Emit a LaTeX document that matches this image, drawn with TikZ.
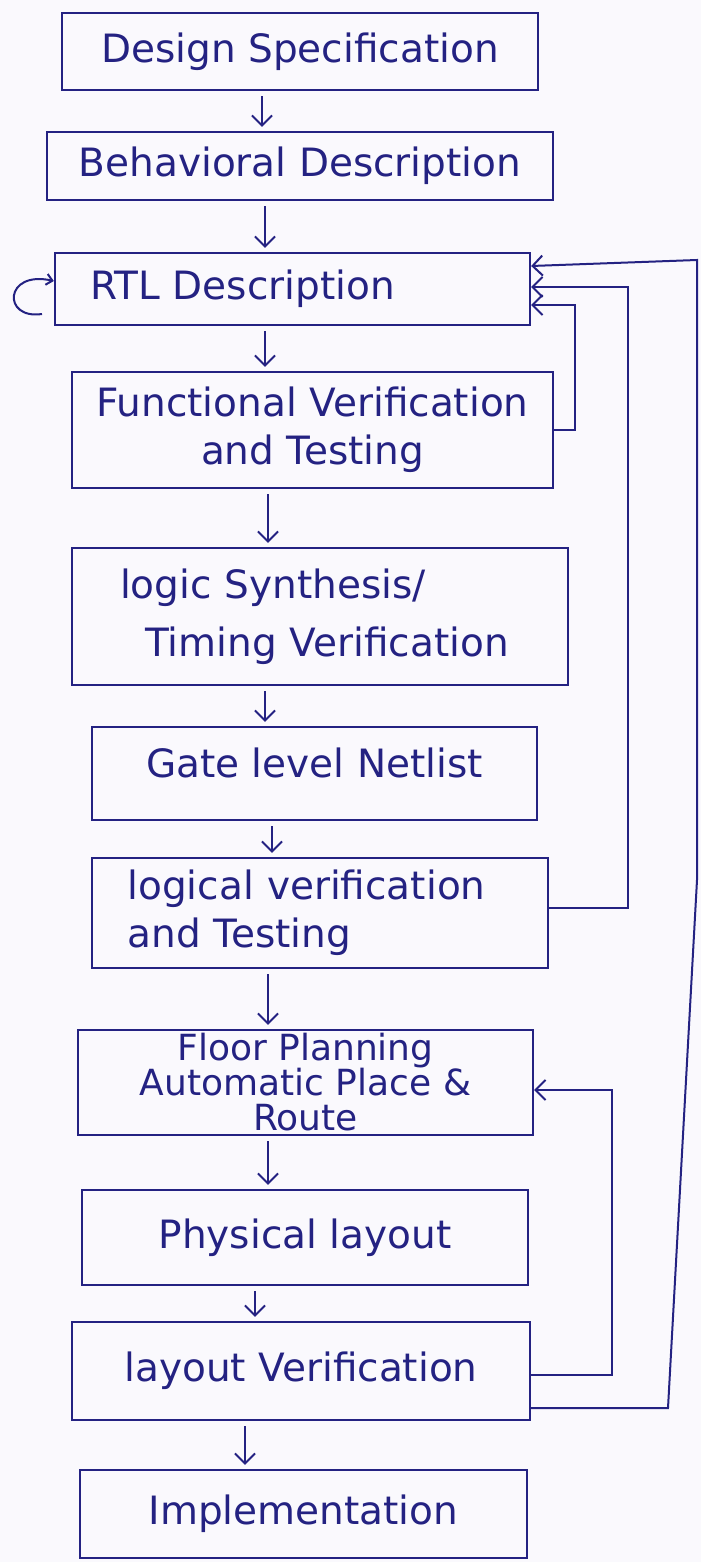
\documentclass[tikz,border=0pt]{standalone}
\usepackage{fontspec}
\setmainfont{DejaVu Sans}
\usetikzlibrary{arrows.meta}
\definecolor{ink}{RGB}{36,34,130}
\definecolor{paper}{RGB}{250,249,253}
\begin{document}
\begin{tikzpicture}[x=1pt,y=-1pt,
  box/.style={draw=ink, line width=2.3pt, text=ink, inner sep=0pt,
    font=\fontsize{39}{48}\selectfont},
  flow/.style={draw=ink, line width=2pt, -{Straight Barb[length=10pt,width=20pt]}},
  gap/.style={shorten <=5pt, shorten >=4pt}]
\useasboundingbox (0,0) rectangle (701,1562);
\fill[paper] (0,0) rectangle (701,1562);

% design flow boxes
\node[box, minimum width=476, minimum height=77] (ds) at (300,51.5) {Design Specification};
\node[box, minimum width=506, minimum height=68] (bd) at (300,166) {Behavioral Description};
\node[box, minimum width=475, minimum height=72, text width=405, align=left] (rtl) at (292.5,289) {RTL Description};
\node[box, minimum width=481, minimum height=116, align=center] (fvt) at (312.5,430) {Functional Verification\\and Testing};
\node[box, minimum width=496, minimum height=137, text width=400, align=left] (lst) at (320,616.5) {logic Synthesis/\\[10pt]\hspace*{25pt}Timing Verification};
\node[box, minimum width=445, minimum height=93, text depth=22pt] (gln) at (314.5,773.5) {Gate level Netlist};
\node[box, minimum width=456, minimum height=110, text width=385, align=left] (lvt) at (320,913) {logical verification\\and Testing};
\node[box, minimum width=455, minimum height=105, align=center, font=\fontsize{36}{35}\selectfont] (fp) at (305.5,1082.5) {Floor Planning\\Automatic Place \&\\Route};
\node[box, minimum width=446, minimum height=95] (pl) at (305,1237.5) {Physical layout};
\node[box, minimum width=458, minimum height=98] (lv) at (301,1371) {layout Verification};
\node[box, minimum width=447, minimum height=88] (impl) at (303.5,1514) {Implementation};

% forward steps
\draw[flow, gap] (ds.south -| 262,0) -- (bd.north -| 262,0);
\draw[flow, gap] (bd.south -| 265,0) -- (rtl.north -| 265,0);
\draw[flow, gap] (rtl.south -| 265,0) -- (fvt.north -| 265,0);
\draw[flow, gap] (fvt.south -| 268,0) -- (lst.north -| 268,0);
\draw[flow, gap] (lst.south -| 265,0) -- (gln.north -| 265,0);
\draw[flow, gap] (gln.south -| 272,0) -- (lvt.north -| 272,0);
\draw[flow, gap] (lvt.south -| 268,0) -- (fp.north -| 268,0);
\draw[flow, gap] (fp.south -| 268,0) -- (pl.north -| 268,0);
\draw[flow, gap] (pl.south -| 255,0) -- (lv.north -| 255,0);
\draw[flow, gap] (lv.south -| 245,0) -- (impl.north -| 245,0);

% feedback loops
\draw[flow] (fvt.east |- 0,430) -- (575,430) -- (575,305) -- (rtl.east |- 0,305);
\draw[flow] (lvt.east |- 0,908) -- (628,908) -- (628,287) -- (rtl.east |- 0,287);
\draw[flow] (lv.east |- 0,1375) -- (612,1375) -- (612,1090) -- (fp.east |- 0,1090);
\draw[flow] (lv.east |- 0,1408) -- (668,1408) -- (697,880) -- (697,260) -- (rtl.east |- 0,266);

% iteration curl on the RTL step
\coordinate (curl) at (42,314);
\draw[flow, -{Straight Barb[length=6pt,width=11pt]}]
  (curl) .. controls (2,320) and (4,270) .. (rtl.west |- 0,281);
\end{tikzpicture}
\end{document}
